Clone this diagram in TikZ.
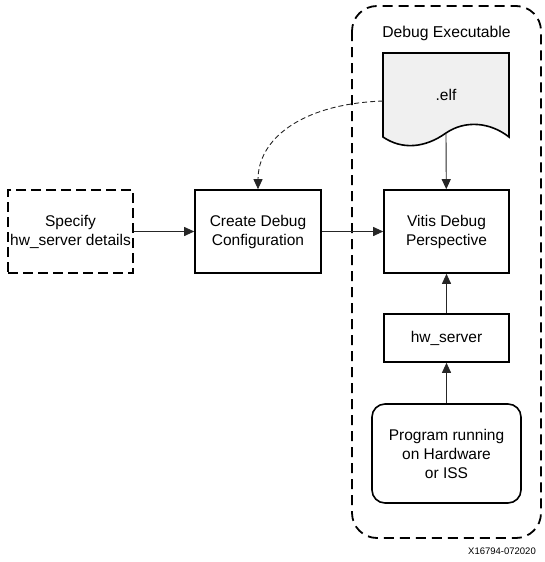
\documentclass[tikz,border=0pt]{standalone}
\usepackage{fontspec}
\setmainfont{Liberation Sans}
\usetikzlibrary{arrows.meta}
\begin{document}
\begin{tikzpicture}[x=1pt,y=-1pt,
  box/.style={draw=black,line width=1.6pt,minimum width=125pt,minimum height=83pt,align=center,font=\fontsize{15.5}{19}\selectfont,inner sep=0pt},
  dbox/.style={box,dash pattern=on 10pt off 5pt},
  conn/.style={line width=0.9pt,draw=black!85,-{Triangle[length=10pt,width=9pt]}},
  dconn/.style={conn,dashed}]
\useasboundingbox (0,0) rectangle (544,562);
% outer dashed container
\draw[line width=1.8pt,dash pattern=on 10pt off 6pt,rounded corners=25pt] (352,6) rectangle (541,538);
\node[font=\fontsize{15.7}{18}\selectfont] (title) at (446.5,33) {Debug Executable};
% document shape
\draw[line width=1.6pt,fill=black!6] (383,53) -- (509,53) -- (509,137)
  .. controls (490,122) and (465,120) .. (446,133)
  .. controls (425,148) and (402,150) .. (383,137) -- cycle;
\node[font=\fontsize{15.5}{19}\selectfont] (elf) at (446,95) {.elf};
\coordinate (elfleft) at (383,101);
\coordinate (elfbot) at (446,134);
% boxes
\node[dbox] (spec) at (70.5,231.5) {Specify\\hw\_server details};
\node[box,minimum width=126pt] (create) at (258,231.5) {Create Debug\\Configuration};
\node[box] (vitis) at (446.5,231.5) {Vitis Debug\\Perspective};
\node[box,minimum height=48pt] (hw) at (446.5,338) {hw\_server};
\node[box,minimum width=149pt,minimum height=99pt,rounded corners=13pt] (prog) at (446.5,453.5) {Program running\\on Hardware\\or ISS};
% connectors
\draw[conn] (spec) -- (create);
\draw[conn] (create) -- (vitis);
\draw[conn] (elfbot) -- (vitis);
\draw[conn] (hw) -- (vitis);
\draw[conn] (prog) -- (hw);
\draw[conn,dash pattern=on 5pt off 3pt] (elfleft) .. controls (300,104) and (258,140) .. (create.north);
\node[font=\fontsize{9.5}{11}\selectfont] (id) at (502,551) {X16794-072020};
\end{tikzpicture}
\end{document}
